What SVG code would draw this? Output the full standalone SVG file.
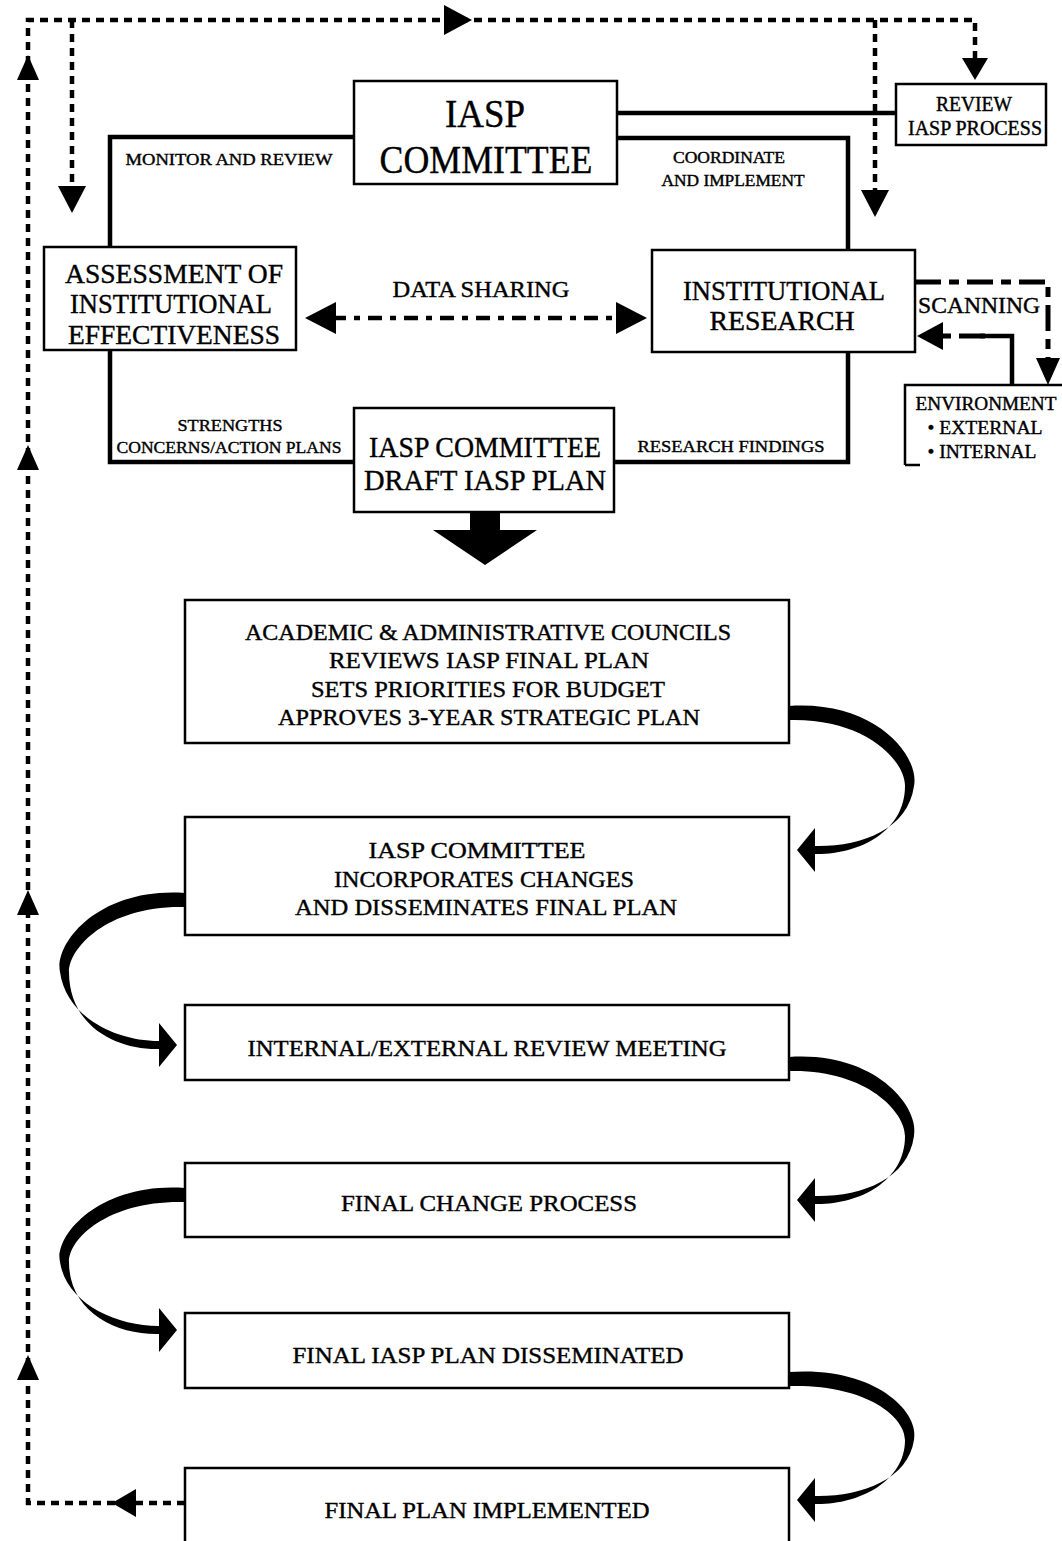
<svg xmlns="http://www.w3.org/2000/svg" width="1062" height="1541" viewBox="0 0 1062 1541">
<style>
.box{fill:#fff;stroke:#000;stroke-width:2.5}
.t{font-family:"Liberation Serif",serif;fill:#000;text-anchor:middle;stroke:#000;stroke-width:0.4}
.solid{fill:none;stroke:#000;stroke-width:4.5}
.dash{fill:none;stroke:#000;stroke-width:4.5;stroke-dasharray:8 6}
.dd{fill:none;stroke:#000;stroke-width:5;stroke-dasharray:26 8 10 8}
.head{fill:#000}
</style>
<rect width="1062" height="1541" fill="#fff"/>
<g id="connectors">
<path class="dash" d="M185,1503 L28,1503 L28,20 L975,20 L975,62"/>
<path class="dash" d="M72,20 L72,190"/>
<path class="dash" d="M875,20 L875,194"/>
<polygon class="head" points="28,55 17,80 39,80"/>
<polygon class="head" points="28,445 17,470 39,470"/>
<polygon class="head" points="28,890 17,915 39,915"/>
<polygon class="head" points="28,1355 17,1380 39,1380"/>
<polygon class="head" points="112,1503 136,1489 136,1517"/>
<polygon class="head" points="472,20 444,5 444,35"/>
<polygon class="head" points="72,213 58,186 86,186"/>
<polygon class="head" points="875,217 861,190 889,190"/>
<polygon class="head" points="975,80 962,58 988,58"/>
<path class="solid" d="M617,113 L896,113"/>
<path class="solid" d="M354,137 L110,137 L110,247"/>
<path class="solid" d="M110,350 L110,462 L354,462"/>
<path class="solid" d="M617,138 L848,138 L848,250"/>
<path class="solid" d="M848,352 L848,462 L614,462"/>
<path class="dash" d="M332,318 L620,318" style="stroke-dasharray:14 8 6 8"/>
<polygon class="head" points="305,318 336,302 336,334"/>
<polygon class="head" points="647,318 616,302 616,334"/>
<path class="dd" d="M915,282 L1048,282 L1048,360"/>
<polygon class="head" points="1048,385 1036,358 1060,358"/>
<path class="solid" d="M1012,385 L1012,336 L980,336"/>
<path class="dd" d="M985,336 L940,336"/>
<polygon class="head" points="917,336 943,322 943,350"/>
<polygon class="head" points="470,512 500,512 500,530 537,530 485,565 433,530 470,530"/>
<path class="head" d="M789,706 C875,700 920,756 914,786 C908,830 860,847 815,846 L815,828 L797,850 L815,872 L815,854 C858,855 905,832 905,786 C905,760 865,718 789,720 Z"/>
<path class="head" d="M789,1057 C875,1051 920,1107 914,1136 C908,1180 860,1197 815,1196 L815,1178 L797,1200 L815,1222 L815,1204 C858,1205 905,1182 905,1136 C905,1111 865,1069 789,1071 Z"/>
<path class="head" d="M789,1372 C875,1366 920,1412 914,1440 C908,1480 860,1497 815,1496 L815,1478 L797,1500 L815,1522 L815,1504 C858,1505 905,1482 905,1440 C905,1416 865,1384 789,1386 Z"/>
<path class="head" d="M185,893 C99,887 54,943 60,972 C66,1016 114,1041 159,1041 L159,1023 L177,1045 L159,1067 L159,1049 C116,1050 69,1026 69,972 C69,947 109,905 185,907 Z"/>
<path class="head" d="M185,1188 C99,1182 54,1236 60,1262 C66,1302 114,1326 159,1326 L159,1308 L177,1330 L159,1352 L159,1334 C116,1335 69,1312 69,1262 C69,1238 109,1200 185,1202 Z"/>
</g>
<g id="iasp-committee">
<rect class="box" x="354" y="81" width="263" height="103"/>
<text class="t" x="485" y="127" font-size="40" textLength="80" lengthAdjust="spacingAndGlyphs">IASP</text>
<text class="t" x="486" y="173" font-size="40" textLength="213" lengthAdjust="spacingAndGlyphs">COMMITTEE</text>
</g>
<g id="review-iasp-process">
<rect class="box" x="896" y="84" width="150" height="61"/>
<text class="t" x="974" y="111" font-size="20" textLength="76" lengthAdjust="spacingAndGlyphs">REVIEW</text>
<text class="t" x="975" y="135" font-size="20" textLength="134" lengthAdjust="spacingAndGlyphs">IASP PROCESS</text>
</g>
<g id="labels">
<text class="t" x="229" y="165" font-size="17" textLength="207" lengthAdjust="spacingAndGlyphs">MONITOR AND REVIEW</text>
<text class="t" x="729" y="163" font-size="16" textLength="112" lengthAdjust="spacingAndGlyphs">COORDINATE</text>
<text class="t" x="733" y="186" font-size="16" textLength="143" lengthAdjust="spacingAndGlyphs">AND IMPLEMENT</text>
<text class="t" x="481" y="297" font-size="24" textLength="177" lengthAdjust="spacingAndGlyphs">DATA SHARING</text>
<text class="t" x="979" y="313" font-size="24" textLength="122" lengthAdjust="spacingAndGlyphs">SCANNING</text>
<text class="t" x="230" y="431" font-size="17" textLength="105" lengthAdjust="spacingAndGlyphs">STRENGTHS</text>
<text class="t" x="229" y="453" font-size="17" textLength="225" lengthAdjust="spacingAndGlyphs">CONCERNS/ACTION PLANS</text>
<text class="t" x="731" y="452" font-size="17" textLength="187" lengthAdjust="spacingAndGlyphs">RESEARCH FINDINGS</text>
</g>
<g id="assessment">
<rect class="box" x="44" y="247" width="252" height="103"/>
<text class="t" x="174" y="283" font-size="28" textLength="218" lengthAdjust="spacingAndGlyphs">ASSESSMENT OF</text>
<text class="t" x="171" y="313" font-size="28" textLength="202" lengthAdjust="spacingAndGlyphs">INSTITUTIONAL</text>
<text class="t" x="174" y="344" font-size="28" textLength="212" lengthAdjust="spacingAndGlyphs">EFFECTIVENESS</text>
</g>
<g id="institutional-research">
<rect class="box" x="652" y="250" width="263" height="102"/>
<text class="t" x="784" y="300" font-size="28" textLength="202" lengthAdjust="spacingAndGlyphs">INSTITUTIONAL</text>
<text class="t" x="782" y="330" font-size="28" textLength="145" lengthAdjust="spacingAndGlyphs">RESEARCH</text>
</g>
<g id="environment">
<path class="box" d="M905,465 L905,385 L1062,385 M905,465 L920,465"/>
<text class="t" x="986" y="410" font-size="19" textLength="141" lengthAdjust="spacingAndGlyphs">ENVIRONMENT</text>
<text class="t" x="985" y="434" font-size="19" textLength="115" lengthAdjust="spacingAndGlyphs">• EXTERNAL</text>
<text class="t" x="982" y="458" font-size="19" textLength="109" lengthAdjust="spacingAndGlyphs">• INTERNAL</text>
</g>
<g id="draft-plan">
<rect class="box" x="354" y="408" width="260" height="104"/>
<text class="t" x="485" y="457" font-size="30" textLength="232" lengthAdjust="spacingAndGlyphs">IASP COMMITTEE</text>
<text class="t" x="485" y="490" font-size="30" textLength="242" lengthAdjust="spacingAndGlyphs">DRAFT IASP PLAN</text>
</g>
<g id="councils">
<rect class="box" x="185" y="600" width="604" height="143"/>
<text class="t" x="488" y="640" font-size="24" textLength="486" lengthAdjust="spacingAndGlyphs">ACADEMIC &amp; ADMINISTRATIVE COUNCILS</text>
<text class="t" x="489" y="668" font-size="24" textLength="320" lengthAdjust="spacingAndGlyphs">REVIEWS IASP FINAL PLAN</text>
<text class="t" x="488" y="697" font-size="24" textLength="354" lengthAdjust="spacingAndGlyphs">SETS PRIORITIES FOR BUDGET</text>
<text class="t" x="489" y="725" font-size="24" textLength="422" lengthAdjust="spacingAndGlyphs">APPROVES 3-YEAR STRATEGIC PLAN</text>
</g>
<g id="incorporates">
<rect class="box" x="185" y="817" width="604" height="118"/>
<text class="t" x="477" y="858" font-size="24" textLength="217" lengthAdjust="spacingAndGlyphs">IASP COMMITTEE</text>
<text class="t" x="484" y="887" font-size="24" textLength="300" lengthAdjust="spacingAndGlyphs">INCORPORATES CHANGES</text>
<text class="t" x="486" y="915" font-size="24" textLength="382" lengthAdjust="spacingAndGlyphs">AND DISSEMINATES FINAL PLAN</text>
</g>
<g id="review-meeting">
<rect class="box" x="185" y="1005" width="604" height="75"/>
<text class="t" x="487" y="1056" font-size="24" textLength="479" lengthAdjust="spacingAndGlyphs">INTERNAL/EXTERNAL REVIEW MEETING</text>
</g>
<g id="final-change">
<rect class="box" x="185" y="1163" width="604" height="74"/>
<text class="t" x="489" y="1211" font-size="24" textLength="296" lengthAdjust="spacingAndGlyphs">FINAL CHANGE PROCESS</text>
</g>
<g id="disseminated">
<rect class="box" x="185" y="1313" width="604" height="75"/>
<text class="t" x="488" y="1363" font-size="24" textLength="391" lengthAdjust="spacingAndGlyphs">FINAL IASP PLAN DISSEMINATED</text>
</g>
<g id="implemented">
<rect class="box" x="185" y="1468" width="604" height="80"/>
<text class="t" x="487" y="1518" font-size="24" textLength="325" lengthAdjust="spacingAndGlyphs">FINAL PLAN IMPLEMENTED</text>
</g>
</svg>
